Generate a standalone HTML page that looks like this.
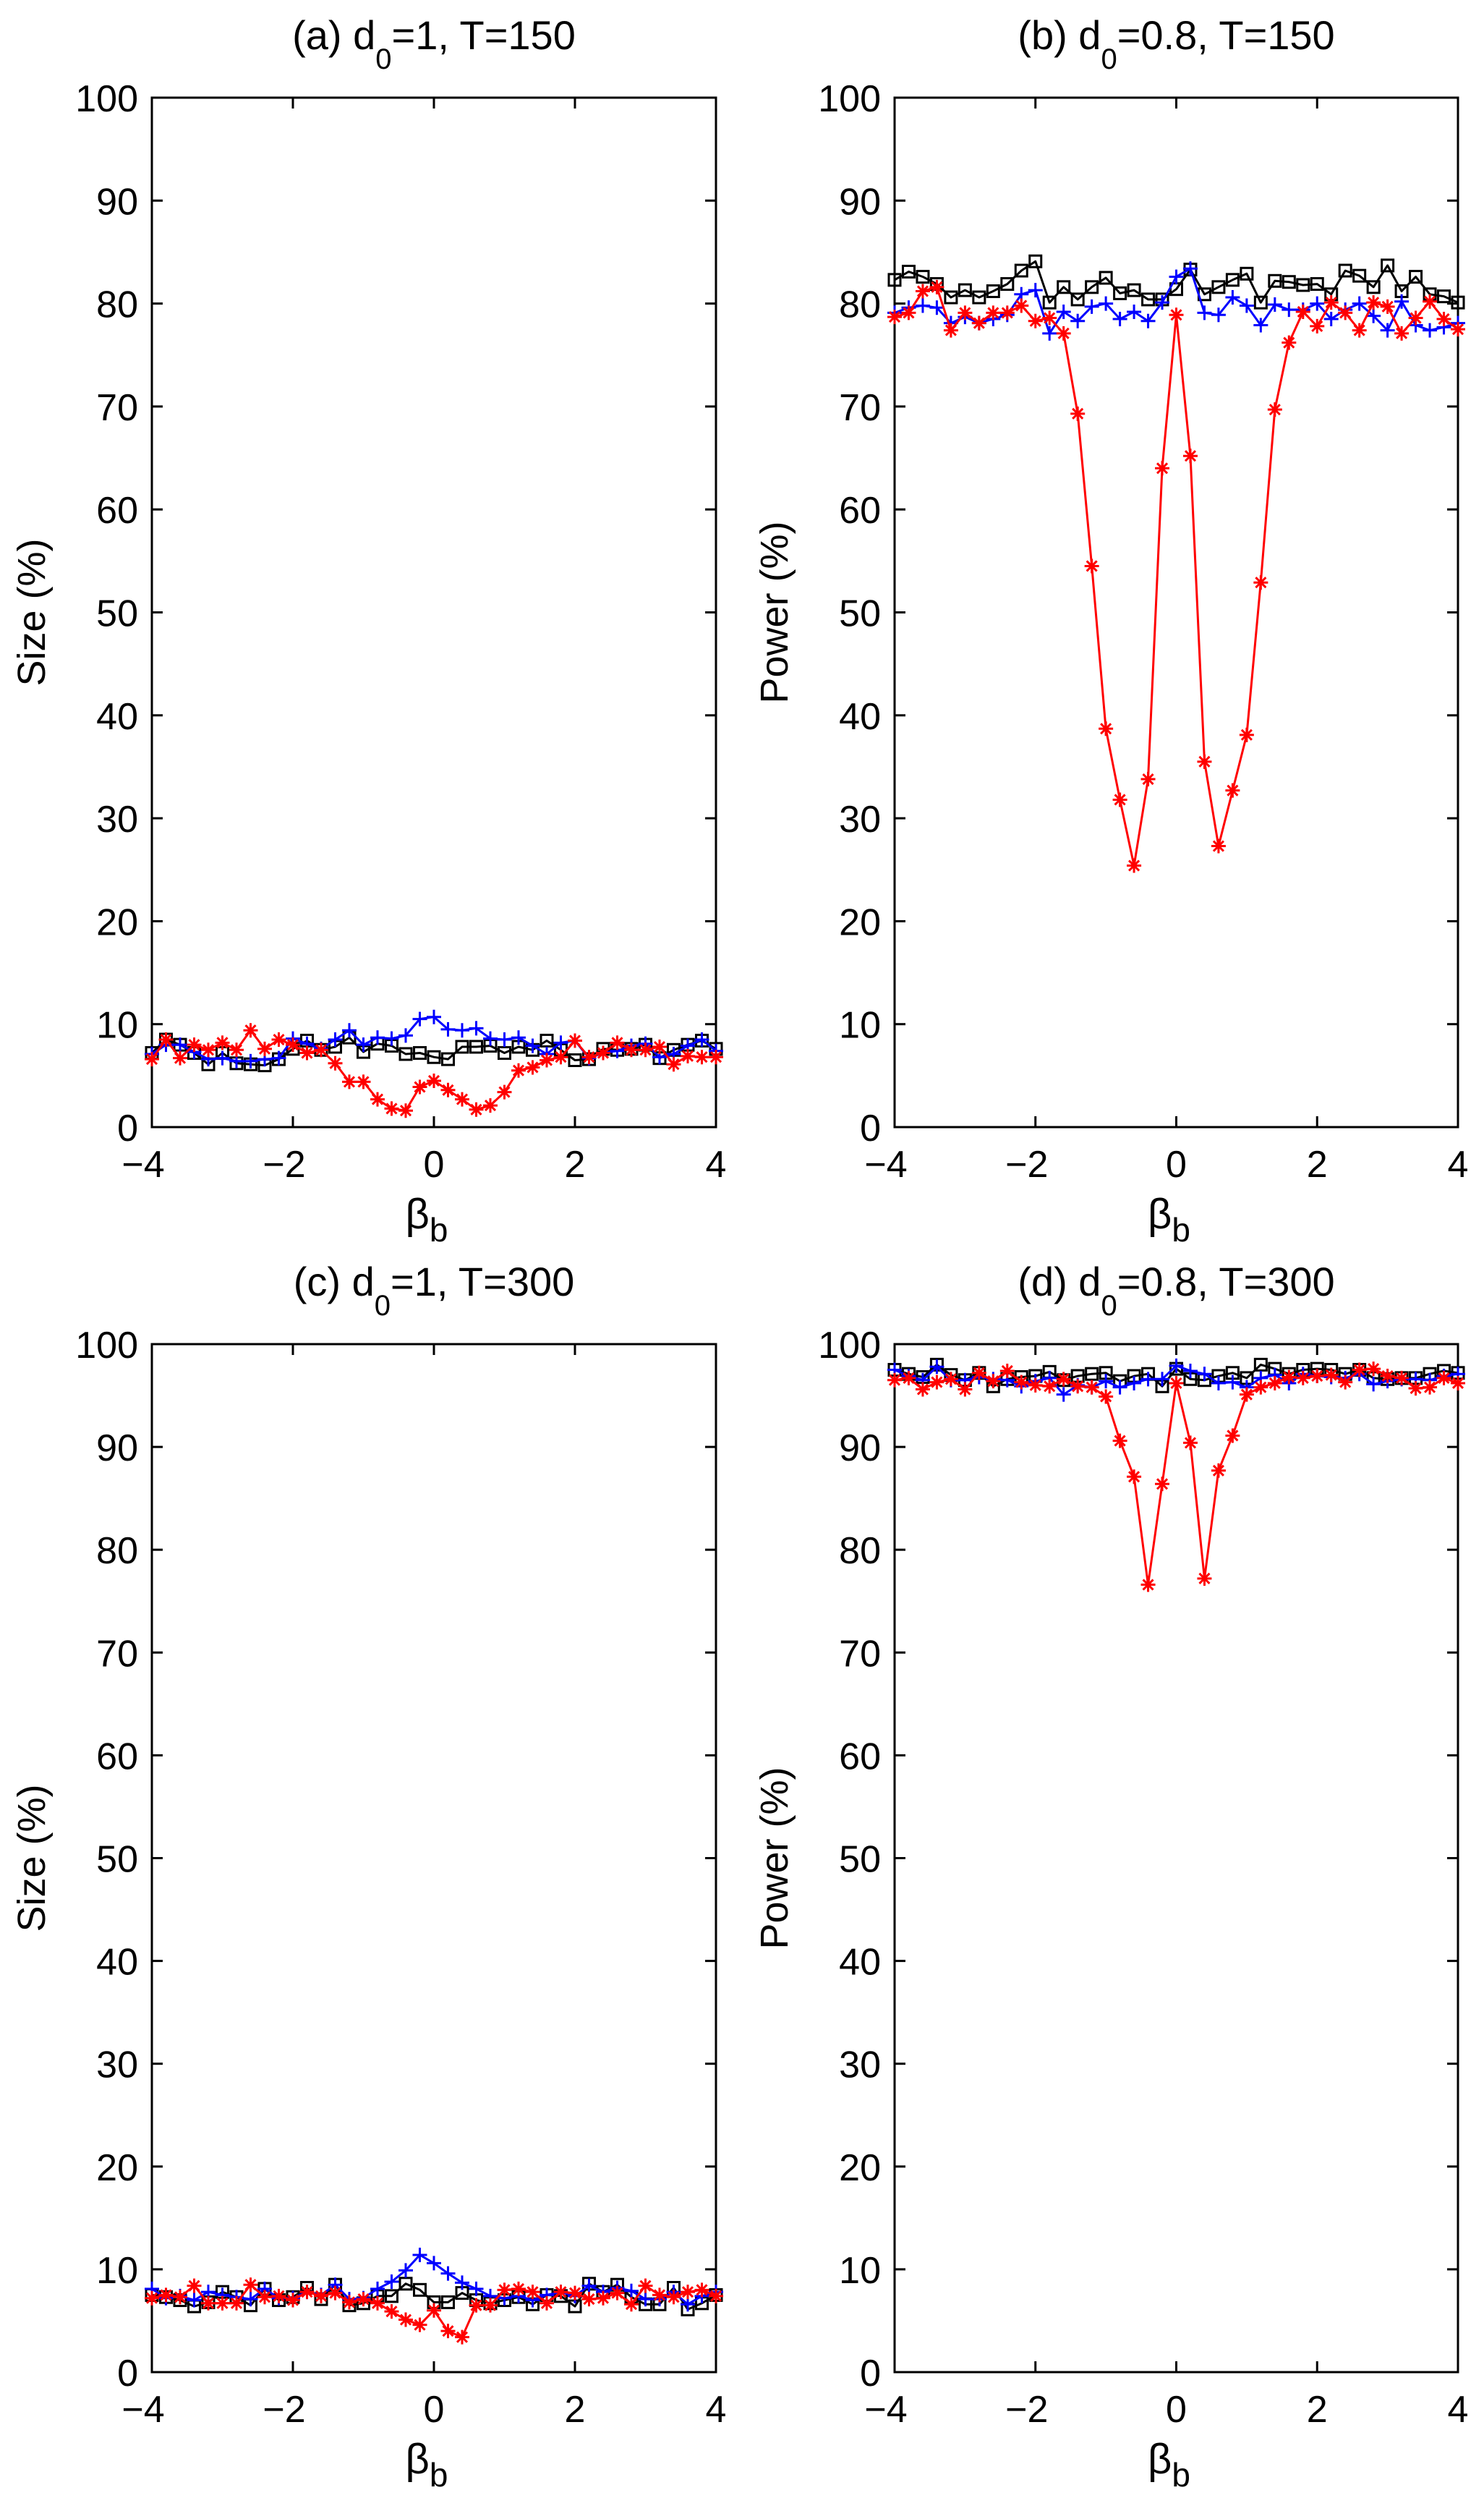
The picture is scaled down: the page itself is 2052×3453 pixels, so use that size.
<!DOCTYPE html>
<html><head><meta charset="utf-8"><style>
html,body{margin:0;padding:0;background:#fff;}
svg{display:block;font-family:"Liberation Sans",Arial,sans-serif;}
</style></head><body>
<svg id="fig" width="2052" height="3453" viewBox="0 0 2052 3453" xmlns="http://www.w3.org/2000/svg"></svg>
<script>
const xs = [];
for (let i = 0; i <= 40; i++) xs.push(-4 + i * 0.2);
const xTicks = [-4, -2, 0, 2, 4];
const xTickLabels = ["\u22124", "\u22122", "0", "2", "4"];
const yTicks = [0,10,20,30,40,50,60,70,80,90,100];

const aBlack = [7.2,8.5,8,7.2,6.1,7.2,6.2,6.1,6,6.6,7.6,8.4,7.5,7.8,8.7,7.3,8.1,7.9,7.1,7.2,6.8,6.6,7.8,7.8,7.9,7.2,7.8,7.5,8.4,7.5,6.5,6.6,7.6,7.5,7.6,8,6.7,7.5,8,8.4,7.6];
const aBlue = [7.1,8,8,7.3,6.6,6.7,6.4,6.4,6.6,6.7,8.6,8.1,7.6,8.5,9.4,8,8.7,8.6,8.9,10.5,10.7,9.5,9.4,9.6,8.6,8.5,8.7,7.9,7.1,8.2,8.4,6.7,7.2,7.4,7.9,8.1,6.8,7.1,7.9,8.5,7.4];
const aRed = [6.6,8.5,6.7,8,7.5,8.2,7.5,9.4,7.6,8.5,8,7.2,7.5,6.2,4.4,4.4,2.7,1.8,1.6,3.9,4.5,3.6,2.7,1.7,2.1,3.4,5.5,5.8,6.5,6.8,8.4,6.8,7.2,8.2,7.5,7.5,7.8,6.1,6.9,6.8,6.8];

const bBlack = [82.3,83.1,82.6,81.9,80.6,81.3,80.6,81.2,81.9,83.2,84.1,80.1,81.6,80.4,81.6,82.5,81,81.3,80.4,80.4,81.4,83.3,80.9,81.6,82.3,82.9,80.1,82.2,82.1,81.8,81.9,80.9,83.2,82.7,81.6,83.7,81.2,82.6,80.9,80.7,80.1];
const bBlue = [79.1,79.6,79.8,79.6,78.1,78.7,78.1,78.5,78.9,80.9,81.3,77.1,79.2,78.3,79.7,80,78.5,79.2,78.3,80.1,82.6,83.4,79.1,78.9,80.6,79.8,77.9,79.9,79.4,79.4,80,78.5,79.4,80,78.8,77.4,80.2,77.9,77.4,77.7,78.1];
const bRed = [78.7,79.1,81.2,81.6,77.4,79.1,78.1,79.1,79.1,79.8,78.3,78.6,77.1,69.3,54.5,38.7,31.8,25.4,33.8,64,78.9,65.2,35.5,27.3,32.7,38.1,52.9,69.7,76.2,79.2,77.8,80.1,79.1,77.4,80.1,79.7,77.1,78.6,80.2,78.5,77.5];

const cBlack = [7.5,7.3,7,6.4,6.8,7.8,7.3,6.5,8.1,7,7.3,8.2,7.1,8.5,6.5,6.7,7.4,7.4,8.6,8,6.8,6.8,7.7,7,6.7,7,7.3,6.6,7.5,7.4,6.4,8.6,7.8,8.5,7.3,6.6,6.6,8.2,6.1,6.7,7.5];
const cBlue = [8.1,7.2,7.4,7,7.8,7.5,7.3,7.1,8.1,7.2,7.2,7.8,7.5,8.5,7.1,7.2,8.1,8.8,9.9,11.4,10.6,9.6,8.7,8.1,7.4,7.2,7.4,7,7.5,7.8,7.4,8.4,7.8,8.2,7.9,7.1,7.1,7.8,6.6,7.4,7.8];
const cRed = [7.2,7.5,7.3,8.4,6.7,6.7,6.7,8.5,7.3,7.4,7,7.8,7.4,7.7,6.8,7.1,6.7,5.9,5.1,4.6,6,4,3.4,6.5,6.5,8,8.1,7.8,6.7,7.8,7.7,7.1,7.2,7.7,6.6,8.4,7.5,7.3,7.8,8,7.4];

const dBlack = [97.5,97.1,96.8,98.0,97.0,96.5,97.2,95.9,96.6,96.8,96.9,97.3,96.5,96.9,97.1,97.2,96.4,96.9,97.1,95.9,97.6,96.6,96.5,96.9,97.2,96.7,98.0,97.6,97.1,97.5,97.6,97.5,97.1,97.5,96.7,96.6,96.7,96.7,97.1,97.4,97.2];
const dBlue = [97.5,96.9,96.5,97.8,96.5,96.5,96.8,96.6,96.5,95.9,96.4,96.7,95.1,96.0,95.8,96.4,95.8,96.2,96.6,96.6,97.9,97.4,97.1,96.2,96.3,95.8,96.7,97.0,96.2,97.1,96.9,96.8,96.7,97.1,96.1,96.4,96.6,96.6,96.5,96.9,97.1];
const dRed = [96.5,96.7,95.6,96.3,96.6,95.6,97.2,96.4,97.4,96.3,96.0,95.9,96.6,95.9,95.8,94.9,90.6,87.1,76.6,86.4,96.2,90.4,77.2,87.7,91.1,95.1,95.8,96.2,96.8,96.7,96.9,97.0,96.3,97.5,97.6,96.9,96.7,95.7,95.8,96.7,96.2];

const NS = "http://www.w3.org/2000/svg";
const svg = document.getElementById("fig");
function mk(tag, attrs, parent) {
  const e = document.createElementNS(NS, tag);
  for (const k in attrs) e.setAttribute(k, attrs[k]);
  (parent || svg).appendChild(e);
  return e;
}

const panels = [
  {id:"a", L:210, R:990, T:135, B:1558, title:["(a) d","0","=1, T=150"], ylab:"Size (%)", black:aBlack, blue:aBlue, red:aRed},
  {id:"b", L:1237, R:2016, T:135, B:1558, title:["(b) d","0","=0.8, T=150"], ylab:"Power (%)", black:bBlack, blue:bBlue, red:bRed},
  {id:"c", L:210, R:990, T:1858, B:3279, title:["(c) d","0","=1, T=300"], ylab:"Size (%)", black:cBlack, blue:cBlue, red:cRed},
  {id:"d", L:1237, R:2016, T:1858, B:3279, title:["(d) d","0","=0.8, T=300"], ylab:"Power (%)", black:dBlack, blue:dBlue, red:dRed}
];

panels.forEach(p => {
  const g = mk("g", {});
  
  
  const sx = v => p.L + (v + 4) / 8 * (p.R - p.L);
  const sy = v => p.B - v / 100 * (p.B - p.T);
  const cx = (p.L + p.R) / 2;

  const t = mk("text", {x: cx, y: p.T - 67, "text-anchor": "middle", "font-size": 56, fill: "#000"}, g);
  
  
  const t1 = mk("tspan", {}, t); t1.textContent = p.title[0];
  const t2 = mk("tspan", {dy: 27, "font-size": 40}, t); t2.textContent = p.title[1];
  const t3 = mk("tspan", {dy: -27}, t); t3.textContent = p.title[2];

  const box = mk("rect", {x: p.L, y: p.T, width: p.R - p.L, height: p.B - p.T, fill: "none", stroke: "#000", "stroke-width": 3}, g);
  
  

  yTicks.forEach(v => {
    const y = sy(v);
    mk("line", {x1: p.L, x2: p.L + 15, y1: y, y2: y, stroke: "#000", "stroke-width": 3}, g);
    mk("line", {x1: p.R, x2: p.R - 15, y1: y, y2: y, stroke: "#000", "stroke-width": 3}, g);
    const lb = mk("text", {x: p.L - 19, y: y + 19, "text-anchor": "end", "font-size": 52, fill: "#000"}, g);
    
    
    lb.textContent = v;
  });
  xTicks.forEach((v, i) => {
    const x = sx(v);
    mk("line", {x1: x, x2: x, y1: p.B, y2: p.B - 15, stroke: "#000", "stroke-width": 3}, g);
    mk("line", {x1: x, x2: x, y1: p.T, y2: p.T + 15, stroke: "#000", "stroke-width": 3}, g);
    const lb = mk("text", {x: x - (v < 0 ? 12 : 0), y: p.B + 69, "text-anchor": "middle", "font-size": 52, fill: "#000"}, g);
    
    
    lb.textContent = xTickLabels[i];
  });
  const xl = mk("text", {x: cx - 10, y: p.B + 140, "text-anchor": "middle", "font-size": 58, fill: "#000"}, g);
  
  
  const xa = mk("tspan", {}, xl); xa.textContent = "\u03B2";
  const xb = mk("tspan", {dy: 18, "font-size": 46}, xl); xb.textContent = "b";
  const ym = (p.T + p.B) / 2;
  const yx = p.L - 148;
  const yl = mk("text", {x: yx, y: ym, "text-anchor": "middle", "font-size": 54, fill: "#000", transform: "rotate(-90 " + yx + " " + ym + ")"}, g);
  
  
  yl.textContent = p.ylab;

  const series = [
    {name: "black-square", vals: p.black, color: "#000", marker: "square"},
    {name: "blue-plus", vals: p.blue, color: "#0000ff", marker: "plus"},
    {name: "red-star", vals: p.red, color: "#ff0000", marker: "star"}
  ];
  series.forEach(s => {
    const sg = mk("g", {}, g);
    
    
    const pts = s.vals.map((v, i) => sx(xs[i]).toFixed(1) + "," + sy(v).toFixed(1)).join(" ");
    const pl = mk("polyline", {points: pts, fill: "none", stroke: s.color, "stroke-width": 3, "stroke-linejoin": "round"}, sg);
    
    
    s.vals.forEach((v, i) => {
      const x = sx(xs[i]), y = sy(v);
      let m;
      if (s.marker === "square") {
        m = mk("rect", {x: x - 8, y: y - 8, width: 16, height: 16, fill: "none", stroke: s.color, "stroke-width": 3}, sg);
      } else if (s.marker === "plus") {
        m = mk("path", {d: `M${x-10},${y}H${x+10}M${x},${y-10}V${y+10}`, stroke: s.color, "stroke-width": 3}, sg);
      } else {
        m = mk("path", {d: `M${x-10},${y}H${x+10}M${x},${y-10}V${y+10}M${x-7},${y-7}L${x+7},${y+7}M${x-7},${y+7}L${x+7},${y-7}`, stroke: s.color, "stroke-width": 3}, sg);
      }
      
      
    });
  });
});
</script>
</body></html>
